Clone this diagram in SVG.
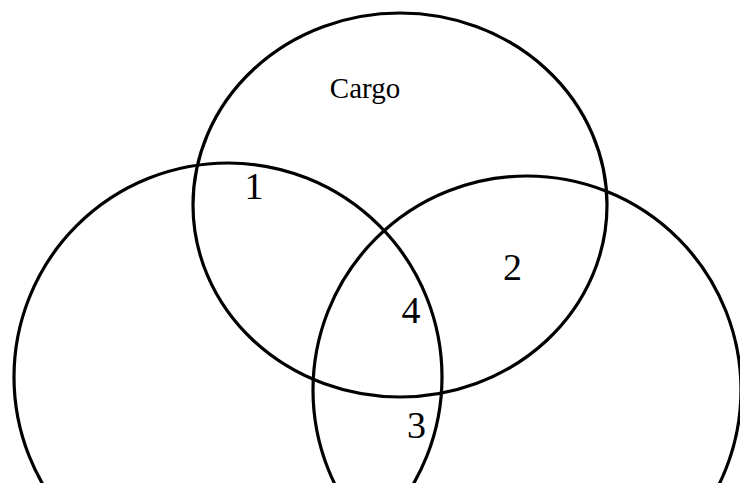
<svg xmlns="http://www.w3.org/2000/svg" width="740" height="483" viewBox="0 0 740 483">
<style>
.c{fill:none;stroke:#000;stroke-width:3.2}
.t{font-family:"Liberation Serif",serif;fill:#000;text-anchor:middle}
.d{font-size:38px}
</style>
<rect width="740" height="483" fill="#fff"/>
<g id="cargo"><ellipse class="c" cx="400" cy="205" rx="207" ry="192"/><text class="t" x="365" y="98" font-size="29">Cargo</text></g>
<g id="left"><circle class="c" cx="228" cy="377" r="214"/></g>
<g id="right"><circle class="c" cx="527" cy="390" r="214"/></g>
<g id="labels">
<text class="t d" x="254" y="199">1</text>
<text class="t d" x="512.5" y="280">2</text>
<text class="t d" x="411" y="323">4</text>
<text class="t d" x="416.5" y="438">3</text>
</g>
<g id="connectors"/>
</svg>
